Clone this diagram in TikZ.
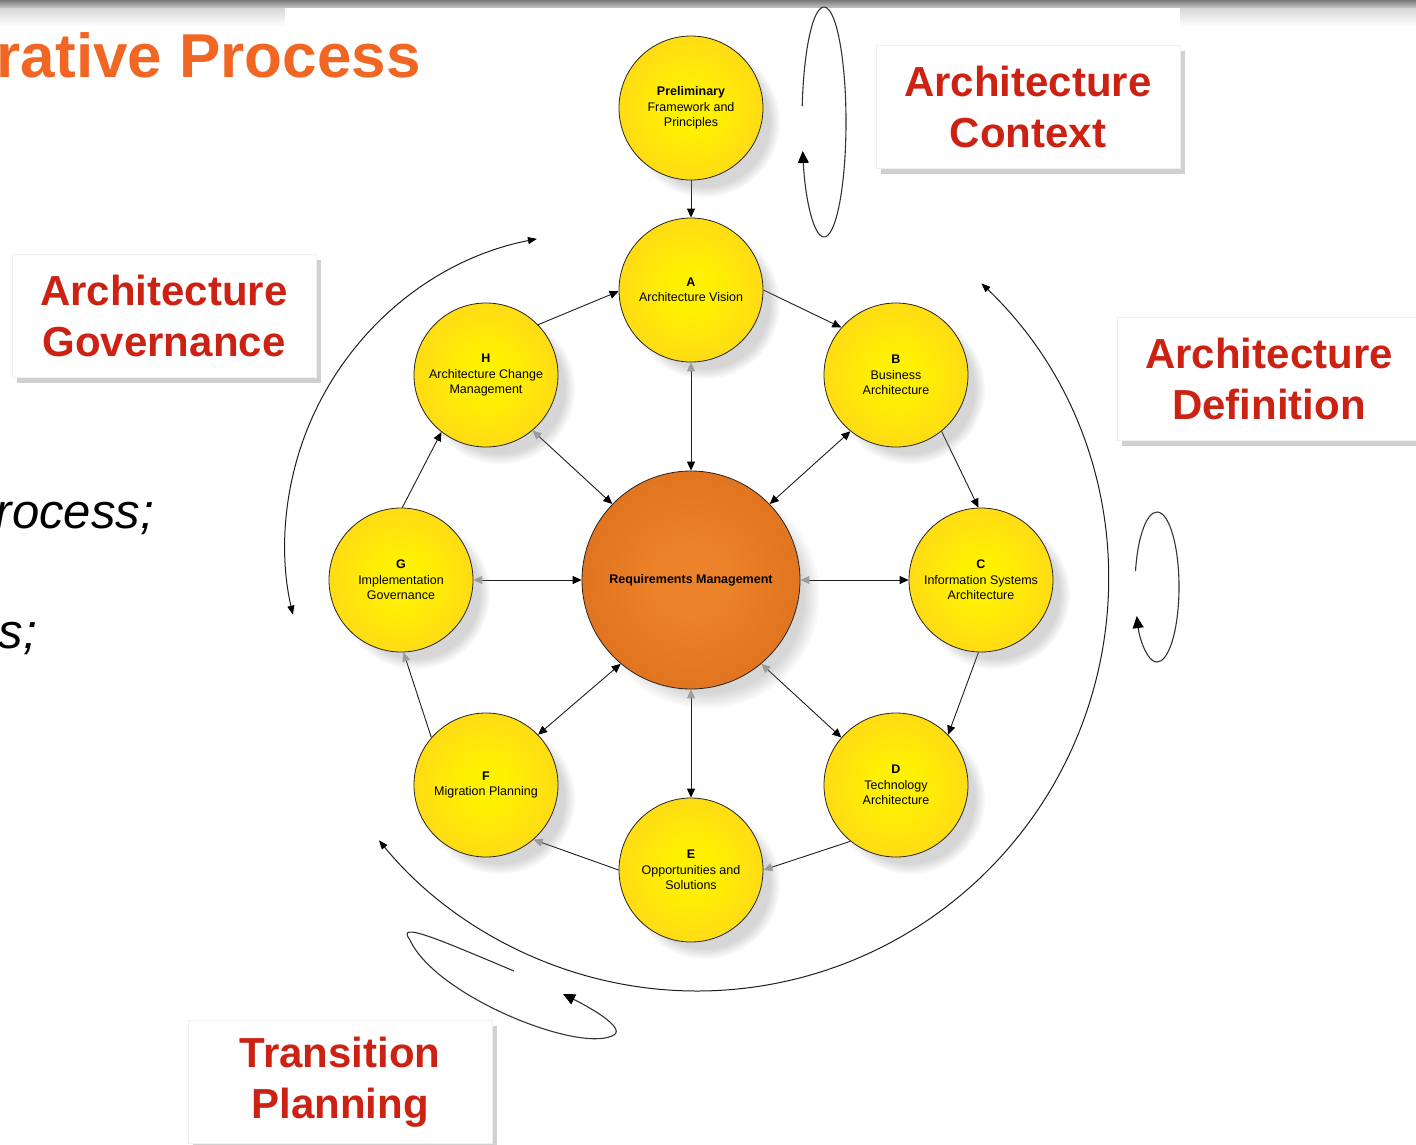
\documentclass[tikz,border=0pt]{standalone}
\usepackage{fontspec}
\setmainfont{Liberation Sans}
\usetikzlibrary{arrows.meta,shadows,fadings,backgrounds}

\definecolor{ycen}{RGB}{255,242,0}
\definecolor{ymid}{RGB}{255,214,26}
\definecolor{yedge}{RGB}{249,186,42}
\definecolor{ocen}{RGB}{236,130,42}
\definecolor{oedge}{RGB}{210,96,14}
\definecolor{hred}{RGB}{204,34,20}
\definecolor{torange}{RGB}{241,102,35}
\definecolor{lnc}{RGB}{30,30,30}
\definecolor{ghead}{RGB}{168,168,168}

\pgfdeclareradialshading{yball}{\pgfpoint{0bp}{0bp}}{color(0bp)=(ycen); color(6bp)=(ycen); color(30bp)=(ymid); color(50bp)=(yedge); color(100bp)=(yedge)}
\pgfdeclareradialshading{oball}{\pgfpoint{0bp}{0bp}}{color(0bp)=(ocen); color(8bp)=(ocen); color(50bp)=(oedge); color(100bp)=(oedge)}

\tikzset{
  bh/.tip={Triangle[length=9pt,width=8pt,color=black]},
  gh/.tip={Triangle[length=9pt,width=8pt,color=ghead]},
  ah/.tip={Triangle[length=9pt,width=7pt,color=black]},
  lh/.tip={Triangle[length=12pt,width=11pt,color=black]},
  phase/.style={circle, draw=black!85, line width=0.8pt, minimum size=144pt, inner sep=0pt,
    shading=yball, align=center, text=black,
    font=\fontsize{12.5}{15.5}\selectfont,
    circular drop shadow={shadow xshift=13pt, shadow yshift=-13pt, shadow scale=1.05, opacity=0.32}},
  core/.style={circle, draw=black!85, line width=0.8pt, minimum size=218pt, inner sep=0pt,
    shading=oball, align=center, text=black,
    font=\bfseries\fontsize{12.5}{15.5}\selectfont,
    circular drop shadow={shadow xshift=15pt, shadow yshift=-15pt, shadow scale=1.04, opacity=0.32}},
  conn/.style={draw=lnc, line width=0.9pt},
  arcline/.style={draw=lnc, line width=1pt},
  loopline/.style={draw=black!80, line width=1.1pt},
  lbl/.style={fill=white, draw=black!6, minimum width=304pt, minimum height=123pt, inner sep=0pt,
    align=center, text=hred, font=\bfseries\fontsize{42}{51}\selectfont,
    drop shadow={shadow xshift=5pt, shadow yshift=-5pt, opacity=0.3, fill=black!60}},
}

\begin{document}
\begin{tikzpicture}[x=1pt,y=-1pt]
\useasboundingbox (0,0) rectangle (1416,1144);
\begin{scope}[on background layer]
  \fill[white] (0,0) rectangle (1416,1144);
  \shade[top color=black!52, bottom color=black!22] (0,0) rectangle (1416,8);
  \shade[top color=black!16, bottom color=white] (0,8) rectangle (1416,26);
  \fill[white] (285,8) rectangle (1180,30);
\end{scope}

% title and cut text
\node[anchor=base east, inner sep=0pt, text=torange, font=\bfseries\fontsize{62}{70}\selectfont] (title) at (421,77) {rative Process};
\node[anchor=base east, inner sep=0pt, font=\itshape\fontsize{49}{56}\selectfont] (t1) at (154,528) {rocess;};
\node[anchor=base east, inner sep=0pt, font=\itshape\fontsize{49}{56}\selectfont] (t2) at (37,648) {s;};

% phases
\node[phase] (P) at (691,108) {\textbf{Preliminary}\\Framework and\\Principles};
\node[phase] (A) at (691,290) {\textbf{A}\\Architecture Vision};
\node[phase] (B) at (896,375) {\textbf{B}\\Business\\Architecture};
\node[phase] (C) at (981,580) {\textbf{C}\\Information Systems\\Architecture};
\node[phase] (D) at (896,785) {\textbf{D}\\Technology\\Architecture};
\node[phase] (E) at (691,870) {\textbf{E}\\Opportunities and\\Solutions};
\node[phase] (F) at (486,785) {\textbf{F}\\Migration Planning};
\node[phase] (G) at (401,580) {\textbf{G}\\Implementation\\Governance};
\node[phase] (H) at (486,375) {\textbf{H}\\Architecture Change\\Management};
\node[core] (RM) at (691,580) {Requirements Management};

% connectors
\begin{scope}[on background layer]
  \draw[conn, -bh] (P) -- (A);
  \draw[conn, -bh] (H.44) -- (A.181);
  \draw[conn, -bh] (A.0) -- (B.139);
  \draw[conn, -bh] (B.-51) -- (C.92);
  \draw[conn, -bh] (C.268) -- (D.44);
  \draw[conn, -gh] (D.231) -- (E.0);
  \draw[conn, -gh] (E.180) -- (F.-49);
  \draw[conn, -gh] (F.139) -- (G.272);
  \draw[conn, -bh] (G.89) -- (H.232);
  \draw[conn, gh-bh] (A) -- (RM);
  \draw[conn, bh-bh] (RM.44) -- (B.231);
  \draw[conn, gh-bh] (RM) -- (C);
  \draw[conn, gh-bh] (RM.-50) -- (D.139);
  \draw[conn, gh-bh] (RM) -- (E);
  \draw[conn, bh-bh] (RM.230) -- (F.44);
  \draw[conn, gh-bh] (G) -- (RM);
  \draw[conn, gh-bh] (H.-50) -- (RM.136);
\end{scope}

% big arcs
\draw[arcline, ah-ah] (597,545) ++(258.9:312) arc[start angle=258.9, end angle=167.1, radius=312];
\draw[arcline, ah-ah] (697,580) ++(-46.2:411) arc[start angle=-46.2, end angle=140.7, radius=411];

% iteration loops
\draw[loopline, -lh] (824,122) ++(188:22 and 115) arc[start angle=188, end angle=525.4, x radius=22, y radius=115];
\draw[loopline, -lh] (1157,587) ++(192.3:22 and 75) arc[start angle=192.3, end angle=517.2, x radius=22, y radius=75];
\draw[loopline, -lh] (514,971) .. controls (440,940) and (395,920) .. (410,940)
  .. controls (435,995) and (575,1052) .. (612,1036)
  .. controls (628,1030) and (595,1010) .. (563,994);

% phase group labels
\node[lbl] (ctx) at (1028,107) {Architecture\\Context};
\node[lbl] (gov) at (164,316) {Architecture\\Governance};
\node[lbl] (def) at (1269,379) {Architecture\\Definition};
\node[lbl] (trn) at (340,1082) {Transition\\Planning};
\end{tikzpicture}
\end{document}
